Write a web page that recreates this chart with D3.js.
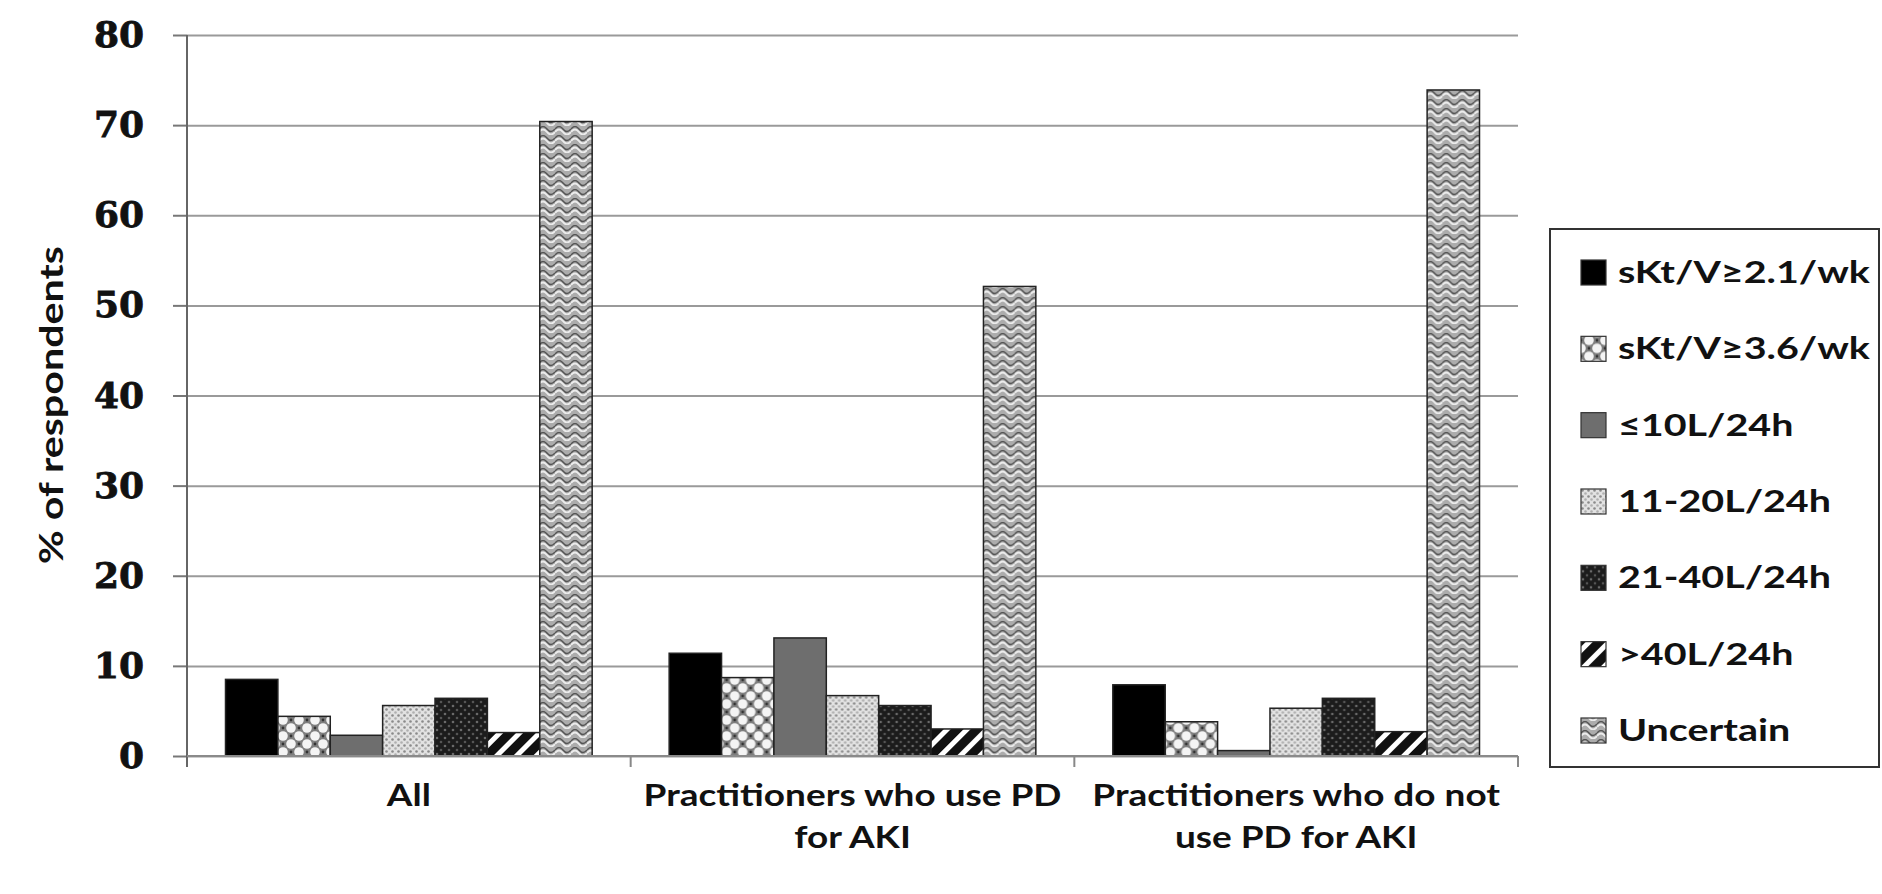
<!DOCTYPE html>
<html>
<head>
<meta charset="utf-8">
<script src="https://cdn.jsdelivr.net/npm/d3@7"></script>
<style>
  html, body { margin: 0; padding: 0; background: #fff; }
  svg { display: block; }
</style>
</head>
<body>
<svg id="chart" width="1882" height="894"></svg>
<script>
// Respondent groups (x categories), each label split into lines
const groups = ["All", "Practitioners who use PD for AKI", "Practitioners who do not use PD for AKI"];
const groupLines = [["All"], ["Practitioners who use PD", "for AKI"], ["Practitioners who do not", "use PD for AKI"]];

// Prescribed dose targets (series)
const series = ["sKt/V≥2.1/wk", "sKt/V≥3.6/wk", "≤10L/24h", "11-20L/24h", "21-40L/24h", ">40L/24h", "Uncertain"];

// % of respondents per series, one array per group
const allValues     = [8.5, 4.4, 2.3, 5.6, 6.4, 2.6, 70.4];
const pdUserValues  = [11.4, 8.7, 13.1, 6.7, 5.6, 3.0, 52.1];
const nonUserValues = [7.9, 3.8, 0.6, 5.3, 6.4, 2.7, 73.9];

const yTicks = [0, 10, 20, 30, 40, 50, 60, 70, 80];
const yTitle = "% of respondents";

const valuesByGroup = [allValues, pdUserValues, nonUserValues];

const svg = d3.select("#chart");
const plot = { left: 187, right: 1518, top: 35, bottom: 756 };

const x0 = d3.scaleBand().domain(groups).range([plot.left, plot.right]).padding(0);
const x1 = d3.scaleBand().domain(series).range([0, x0.bandwidth()]).paddingInner(0).paddingOuter(0.735);
const y = d3.scaleLinear().domain([0, 80]).range([plot.bottom, plot.top]);

// ---- fill patterns ----
const defs = svg.append("defs");

// grey lattice with white openings
let p = defs.append("pattern").attr("id", "pat-lattice").attr("patternUnits", "userSpaceOnUse")
  .attr("width", 16).attr("height", 16);
p.append("rect").attr("width", 16).attr("height", 16).attr("fill", "#7e7e7e");
[[0,0],[16,0],[0,16],[16,16],[8,8]].forEach(([cx, cy]) =>
  p.append("circle").attr("cx", cx).attr("cy", cy).attr("r", 4.8).attr("fill", "#f4f4f4"));
[[8,0],[0,8],[16,8],[8,16]].forEach(([cx, cy]) =>
  p.append("circle").attr("cx", cx).attr("cy", cy).attr("r", 1.4).attr("fill", "#333"));

// light fine dots
p = defs.append("pattern").attr("id", "pat-lightdots").attr("patternUnits", "userSpaceOnUse")
  .attr("width", 6).attr("height", 6);
p.append("rect").attr("width", 6).attr("height", 6).attr("fill", "#e2e2e2");
p.append("circle").attr("cx", 1.5).attr("cy", 1.5).attr("r", 1.3).attr("fill", "#8a8a8a");
p.append("circle").attr("cx", 4.5).attr("cy", 4.5).attr("r", 1.3).attr("fill", "#b0b0b0");

// dark with grey dots
p = defs.append("pattern").attr("id", "pat-darkdots").attr("patternUnits", "userSpaceOnUse")
  .attr("width", 8).attr("height", 8);
p.append("rect").attr("width", 8).attr("height", 8).attr("fill", "#1c1c1c");
p.append("circle").attr("cx", 2).attr("cy", 2).attr("r", 1.3).attr("fill", "#6a6a6a");
p.append("circle").attr("cx", 6).attr("cy", 6).attr("r", 1.3).attr("fill", "#555");

// wide diagonal stripes
p = defs.append("pattern").attr("id", "pat-stripes").attr("patternUnits", "userSpaceOnUse")
  .attr("width", 14).attr("height", 14).attr("patternTransform", "rotate(45)");
p.append("rect").attr("width", 14).attr("height", 14).attr("fill", "#fff");
p.append("rect").attr("width", 9).attr("height", 14).attr("fill", "#111");

// grey waves
p = defs.append("pattern").attr("id", "pat-waves").attr("patternUnits", "userSpaceOnUse")
  .attr("width", 16).attr("height", 9);
p.append("rect").attr("width", 16).attr("height", 9).attr("fill", "#acacac");
p.append("path").attr("d", "M0,6 Q4,1 8,6 T16,6").attr("fill", "none").attr("stroke", "#ececec").attr("stroke-width", 2);
p.append("path").attr("d", "M0,3 Q4,-2 8,3 T16,3").attr("fill", "none").attr("stroke", "#555").attr("stroke-width", 1.4);

const fills = ["#000", "url(#pat-lattice)", "#6e6e6e", "url(#pat-lightdots)", "url(#pat-darkdots)", "url(#pat-stripes)", "url(#pat-waves)"];
const color = d3.scaleOrdinal().domain(series).range(fills);

// ---- gridlines ----
svg.append("g")
  .attr("transform", `translate(${plot.left},0)`)
  .call(d3.axisLeft(y).tickValues(yTicks).tickSize(-(plot.right - plot.left)).tickFormat(""))
  .call(g => g.select(".domain").remove())
  .call(g => g.selectAll("line").attr("stroke", "#9a9a9a").attr("stroke-width", 2));

// ---- bars ----
const groupG = svg.append("g").selectAll("g")
  .data(groups).join("g")
  .attr("transform", d => `translate(${x0(d)},0)`);

groupG.selectAll("rect")
  .data((g, i) => series.map((s, j) => ({ s, v: valuesByGroup[i][j] })))
  .join("rect")
  .attr("x", d => x1(d.s))
  .attr("width", x1.bandwidth())
  .attr("y", d => y(d.v))
  .attr("height", d => y(0) - y(d.v))
  .attr("fill", d => color(d.s))
  .attr("stroke", "#222")
  .attr("stroke-width", 1.5);

// ---- y axis ----
const yAxis = svg.append("g")
  .attr("transform", `translate(${plot.left},0)`)
  .call(d3.axisLeft(y).tickValues(yTicks).tickSize(14).tickPadding(29).tickFormat(d3.format("d")));
yAxis.select(".domain").remove();
yAxis.selectAll("line").attr("stroke", "#777").attr("stroke-width", 2);
yAxis.selectAll("text")
  .attr("font-family", "'DejaVu Serif', serif")
  .attr("font-weight", "bold")
  .attr("font-size", 36)
  .attr("fill", "#111")
  .attr("stroke", "#111")
  .attr("stroke-width", 0.8);
svg.append("line")
  .attr("x1", plot.left).attr("x2", plot.left)
  .attr("y1", y(80)).attr("y2", y(0) + 11)
  .attr("stroke", "#666").attr("stroke-width", 2);

// ---- x axis ----
svg.append("line")
  .attr("x1", plot.left).attr("x2", plot.right)
  .attr("y1", y(0)).attr("y2", y(0))
  .attr("stroke", "#8a8a8a").attr("stroke-width", 2);
svg.append("g").selectAll("line")
  .data(groups.slice(1).map(g => x0(g)).concat([x0.range()[1]]))
  .join("line")
  .attr("x1", d => d).attr("x2", d => d)
  .attr("y1", y(0)).attr("y2", y(0) + 11)
  .attr("stroke", "#888").attr("stroke-width", 2);

// category labels, squeezed to a condensed look
const catFont = { family: "Lato, 'Open Sans', sans-serif", size: 31, weight: 700 };
const catProbe = svg.append("text").attr("font-family", catFont.family).attr("font-weight", catFont.weight)
  .attr("font-size", catFont.size).text("Practitioners who use PD");
const catK = 418 / catProbe.node().getComputedTextLength();
catProbe.remove();
groups.forEach((g, i) => {
  const cx = x0(g) + x0.bandwidth() / 2;
  groupLines[i].forEach((line, k) => {
    svg.append("text")
      .attr("transform", `translate(${cx},${806 + k * 42}) scale(${catK},1)`)
      .attr("text-anchor", "middle")
      .attr("font-family", catFont.family)
      .attr("font-weight", catFont.weight)
      .attr("font-size", catFont.size)
      .attr("fill", "#111")
      .text(line);
  });
});

// y axis title
const titleProbe = svg.append("text").attr("font-family", "Lato, sans-serif").attr("font-weight", 700)
  .attr("font-size", 33).text(yTitle);
const titleK = 318 / titleProbe.node().getComputedTextLength();
titleProbe.remove();
svg.append("text")
  .attr("transform", `translate(63,405) rotate(-90) scale(${titleK},1)`)
  .attr("text-anchor", "middle")
  .attr("font-family", "Lato, sans-serif")
  .attr("font-weight", 700)
  .attr("font-size", 33)
  .attr("fill", "#111")
  .text(yTitle);

// ---- legend ----
const legend = svg.append("g");
legend.append("rect")
  .attr("x", 1550).attr("y", 229).attr("width", 329).attr("height", 538)
  .attr("fill", "#fff").attr("stroke", "#333").attr("stroke-width", 2);

const legProbe = svg.append("text").attr("font-family", "Lato, sans-serif").attr("font-weight", 700)
  .attr("font-size", 31).text(series[0]);
const legK = 252 / legProbe.node().getComputedTextLength();
legProbe.remove();

const legY = d3.scalePoint().domain(series).range([272, 730]);
const item = legend.selectAll("g.item").data(series).join("g").attr("class", "item")
  .attr("transform", d => `translate(1581,${legY(d)})`);
item.append("rect")
  .attr("x", 0).attr("y", -12).attr("width", 25).attr("height", 25)
  .attr("fill", d => color(d)).attr("stroke", "#333").attr("stroke-width", 1.2);
item.append("text")
  .attr("transform", `translate(37,11) scale(${legK},1)`)
  .attr("font-family", "Lato, sans-serif")
  .attr("font-weight", 700)
  .attr("font-size", 31)
  .attr("fill", "#111")
  .text(d => d);
</script>
</body>
</html>
